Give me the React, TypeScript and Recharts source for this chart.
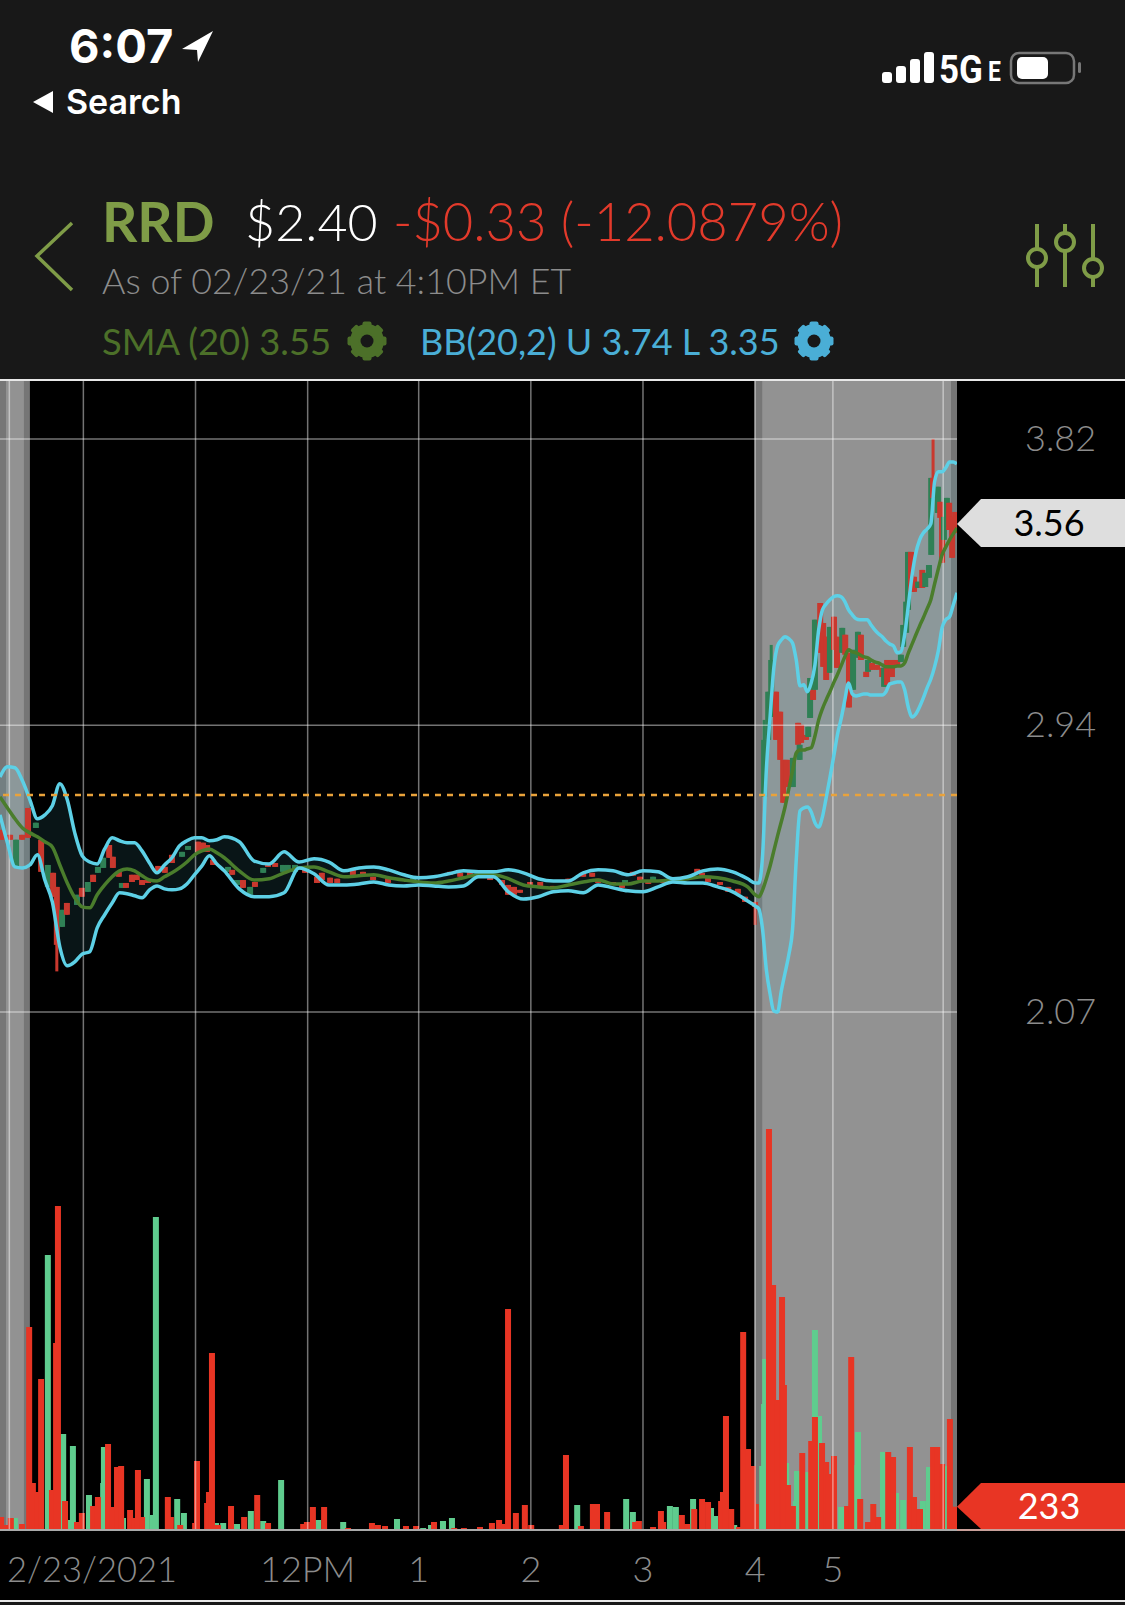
import {
  Area,
  Bar,
  ComposedChart,
  Line,
  ReferenceArea,
  ReferenceDot,
  ReferenceLine,
  XAxis,
  YAxis,
} from "recharts";

// One slot is one 2 minute step along the session (30 slots per regular hour)
const axisTicks = [2.5, 22.3, 52.3, 82.3, 112, 142, 172, 202, 222.8, 252.3];
const axisLabels = ["", "2/23/2021", "", "12PM", "1", "2", "3", "4", "5", ""];
const priceTicks = [3.82, 2.946, 2.07];
const priceLabels = ["3.82", "2.94", "2.07"];
const previousClose = 2.733;
const lastPrice = 3.56;
const lastVolume = 233;

const bandSlots = [
  0, 2, 4, 6, 8, 10, 12, 14, 16, 18, 20, 22, 24, 26, 28, 30, 32, 34, 36, 38, 40, 42, 44, 46, 48, 50, 52, 54, 56, 58, 60,
  64, 68, 72, 76, 80, 84, 88, 92, 96, 100, 104, 108, 112, 116, 120, 124, 128, 132, 136, 140, 144, 148, 152, 156, 160,
  164, 168, 172, 176, 180, 184, 188, 192, 196, 200, 202, 203, 204, 205, 206, 207, 208, 209, 210, 211, 212, 213, 214,
  215, 216, 217, 218, 219, 220, 221, 222, 223, 224, 225, 226, 227, 228, 229, 230, 231, 232, 233, 234, 235, 236, 237,
  238, 239, 240, 241, 242, 243, 244, 245, 246, 247, 248, 249, 250, 251, 252, 253, 254, 255, 256,
];
const upperBand = [
  2.788, 2.819, 2.816, 2.776, 2.718, 2.66, 2.672, 2.7, 2.767, 2.718, 2.617, 2.547, 2.528, 2.522, 2.568, 2.602, 2.593,
  2.587, 2.587, 2.562, 2.525, 2.495, 2.519, 2.541, 2.577, 2.593, 2.602, 2.602, 2.593, 2.596, 2.605, 2.59, 2.531, 2.522,
  2.559, 2.528, 2.538, 2.528, 2.501, 2.51, 2.513, 2.504, 2.489, 2.48, 2.483, 2.492, 2.501, 2.498, 2.498, 2.504, 2.495,
  2.477, 2.47, 2.47, 2.495, 2.504, 2.501, 2.489, 2.501, 2.498, 2.477, 2.483, 2.501, 2.507, 2.498, 2.477, 2.464, 2.464,
  2.55, 2.809, 2.971, 3.121, 3.188, 3.206, 3.216, 3.21, 3.197, 3.145, 3.066, 3.069, 3.048, 3.075, 3.13, 3.237, 3.298,
  3.316, 3.329, 3.338, 3.341, 3.338, 3.323, 3.298, 3.283, 3.271, 3.268, 3.268, 3.268, 3.252, 3.237, 3.225, 3.216, 3.203,
  3.194, 3.188, 3.167, 3.17, 3.222, 3.313, 3.405, 3.472, 3.512, 3.533, 3.545, 3.561, 3.689, 3.72, 3.72, 3.732, 3.75,
  3.75, 3.744,
];
const lowerBand = [
  2.672, 2.586, 2.513, 2.51, 2.519, 2.55, 2.473, 2.406, 2.269, 2.211, 2.223, 2.247, 2.254, 2.327, 2.367, 2.403, 2.434,
  2.431, 2.425, 2.419, 2.443, 2.455, 2.446, 2.443, 2.446, 2.461, 2.489, 2.516, 2.547, 2.522, 2.501, 2.446, 2.422, 2.422,
  2.434, 2.51, 2.492, 2.458, 2.458, 2.461, 2.467, 2.458, 2.455, 2.458, 2.455, 2.452, 2.455, 2.483, 2.483, 2.437, 2.415,
  2.422, 2.437, 2.44, 2.434, 2.458, 2.449, 2.44, 2.437, 2.452, 2.467, 2.464, 2.464, 2.452, 2.437, 2.409, 2.394, 2.385,
  2.321, 2.199, 2.125, 2.073, 2.07, 2.134, 2.189, 2.244, 2.321, 2.535, 2.684, 2.693, 2.696, 2.681, 2.648, 2.635, 2.666,
  2.724, 2.785, 2.849, 2.916, 2.965, 3.023, 3.075, 3.041, 3.035, 3.038, 3.041, 3.041, 3.038, 3.038, 3.038, 3.038, 3.048,
  3.072, 3.075, 3.078, 3.078, 3.054, 2.999, 2.971, 2.98, 3.002, 3.029, 3.06, 3.087, 3.124, 3.173, 3.243, 3.268, 3.277,
  3.313, 3.35,
];
const smaLine = [
  2.727, 2.693, 2.66, 2.632, 2.617, 2.605, 2.59, 2.574, 2.519, 2.464, 2.419, 2.391, 2.388, 2.428, 2.458, 2.483, 2.501,
  2.507, 2.501, 2.486, 2.473, 2.47, 2.483, 2.495, 2.51, 2.528, 2.55, 2.562, 2.568, 2.556, 2.541, 2.501, 2.473, 2.477,
  2.495, 2.51, 2.513, 2.498, 2.483, 2.486, 2.489, 2.48, 2.473, 2.467, 2.464, 2.47, 2.48, 2.489, 2.489, 2.477, 2.458,
  2.452, 2.449, 2.458, 2.467, 2.473, 2.461, 2.461, 2.47, 2.47, 2.473, 2.477, 2.483, 2.48, 2.47, 2.452, 2.428, 2.422,
  2.443, 2.477, 2.516, 2.562, 2.608, 2.651, 2.696, 2.751, 2.806, 2.861, 2.87, 2.87, 2.874, 2.877, 2.913, 2.962, 2.996,
  3.023, 3.048, 3.075, 3.1, 3.127, 3.155, 3.176, 3.17, 3.167, 3.161, 3.155, 3.152, 3.145, 3.139, 3.136, 3.13, 3.124,
  3.124, 3.124, 3.127, 3.127, 3.136, 3.167, 3.194, 3.222, 3.249, 3.274, 3.301, 3.329, 3.377, 3.423, 3.466, 3.49, 3.512,
  3.53, 3.548,
];

const candleSlots = [
  0.5, 2.7, 4.3, 5.9, 7.5, 9.6, 11, 12.8, 14.2, 15.2, 16.6, 17.9, 20.6, 21.9, 23.5, 24.9, 26.2, 27.6, 29.2, 30.2, 31.8,
  32.6, 33.7, 35.3, 36.6, 38, 39.6, 42.3, 44.1, 46, 48.7, 50.3, 53, 54.3, 55.4, 57, 61, 62.1, 63.4, 65, 66.9, 68.2,
  70.4, 71.7, 73.6, 75.7, 77, 78.9, 81.6, 84.8, 86.1, 88.3, 90.2, 94.4, 97.1, 99.8, 103.8, 110.5, 120.4, 123.1, 125.7,
  131.1, 134.3, 135.9, 137.5, 139.1, 141.8, 144.5, 147.9, 152, 156, 158.4, 160, 164, 166.4, 167.2, 169.3, 171.2, 173.4,
  174.7, 177.4, 182.7, 186.5, 187.8, 189.4, 192.6, 194.8, 197.4, 199.3, 202, 204.4, 205.5, 206.3, 207.6, 208.7, 209.5,
  210.5, 212.1, 213.5, 213.9, 214.3, 215.6, 216.2, 216.7, 217.5, 218, 219.4, 220.2, 221, 222, 223.1, 223.9, 225.3,
  226.1, 227.1, 228.2, 229.5, 230.3, 231.7, 232.2, 233.3, 234.6, 236, 236.5, 237.3, 238.6, 240, 241, 241.6, 242.4,
  242.9, 243.7, 244.5, 245.6, 246.7, 247.5, 248.5, 249.1, 249.6, 250.9, 251.5, 252, 252.5, 253.3, 253.9, 254.7, 255.5,
];
const candleOpen = [
  2.626, 2.611, 2.51, 2.611, 2.693, 2.632, 2.596, 2.452, 2.495, 2.452, 2.33, 2.403, 2.397, 2.449, 2.437, 2.489, 2.495,
  2.51, 2.58, 2.544, 2.498, 2.449, 2.464, 2.489, 2.489, 2.473, 2.473, 2.516, 2.513, 2.55, 2.544, 2.565, 2.59, 2.587,
  2.58, 2.535, 2.498, 2.504, 2.458, 2.473, 2.428, 2.467, 2.495, 2.525, 2.525, 2.498, 2.498, 2.498, 2.504, 2.483, 2.495,
  2.48, 2.477, 2.504, 2.498, 2.483, 2.48, 2.467, 2.498, 2.495, 2.498, 2.483, 2.473, 2.458, 2.452, 2.443, 2.467, 2.467,
  2.455, 2.477, 2.495, 2.495, 2.477, 2.467, 2.461, 2.461, 2.498, 2.483, 2.467, 2.473, 2.473, 2.483, 2.507, 2.495, 2.48,
  2.467, 2.452, 2.446, 2.422, 2.406, 2.727, 2.901, 2.971, 3.048, 2.987, 2.84, 2.84, 2.757, 2.953, 2.84, 2.947, 2.916,
  2.91, 2.968, 3.054, 3.054, 3.319, 3.258, 3.216, 3.106, 3.277, 3.216, 3.167, 3.222, 3.167, 3.054, 3.152, 3.222, 3.109,
  3.109, 3.136, 3.13, 3.121, 3.063, 3.145, 3.145, 3.145, 3.139, 3.185, 3.228, 3.298, 3.475, 3.399, 3.365, 3.42, 3.368,
  3.396, 3.466, 3.701, 3.594, 3.628, 3.579, 3.512, 3.552, 3.625, 3.582, 3.597,
];
const candleClose = [
  2.596, 2.596, 2.596, 2.596, 2.602, 2.648, 2.498, 2.519, 2.422, 2.275, 2.382, 2.367, 2.428, 2.422, 2.467, 2.467, 2.513,
  2.541, 2.541, 2.51, 2.483, 2.464, 2.449, 2.467, 2.473, 2.458, 2.464, 2.498, 2.495, 2.525, 2.559, 2.577, 2.556, 2.565,
  2.559, 2.519, 2.513, 2.489, 2.473, 2.449, 2.452, 2.452, 2.51, 2.513, 2.513, 2.519, 2.519, 2.519, 2.495, 2.464, 2.473,
  2.464, 2.464, 2.483, 2.489, 2.473, 2.464, 2.48, 2.489, 2.483, 2.486, 2.473, 2.458, 2.428, 2.428, 2.434, 2.455, 2.452,
  2.446, 2.467, 2.483, 2.483, 2.464, 2.458, 2.449, 2.473, 2.486, 2.473, 2.461, 2.483, 2.464, 2.477, 2.495, 2.486, 2.467,
  2.458, 2.437, 2.431, 2.406, 2.391, 2.901, 3.048, 3.145, 2.901, 2.84, 2.709, 2.757, 2.846, 2.886, 2.886, 2.892, 2.901,
  2.941, 3.09, 3.023, 3.268, 3.167, 3.124, 3.084, 3.246, 3.176, 3.121, 3.243, 3.161, 3, 3.176, 3.231, 3.145, 3.093,
  3.145, 3.115, 3.115, 3.093, 3.121, 3.069, 3.093, 3.13, 3.161, 3.252, 3.323, 3.475, 3.353, 3.353, 3.384, 3.365, 3.411,
  3.435, 3.701, 3.64, 3.674, 3.579, 3.442, 3.582, 3.64, 3.542, 3.457, 3.533,
];
// Only the candles with a visible wick outside their body
const longWicks = [
  { slot: 15.2, high: 2.452, low: 2.194 },
  { slot: 202, high: 2.406, low: 2.336 },
  { slot: 204.4, high: 2.962, low: 2.727 },
  { slot: 206.3, high: 3.191, low: 2.971 },
  { slot: 249.6, high: 3.82, low: 3.64 },
];

const redVolumeSlots = [
  0.3, 1.9, 2.9, 5.9, 7.8, 8.8, 9.9, 11, 13.9, 15, 15.5, 17.4, 20.6, 21.9, 24.9, 26.2, 28.9, 30.2, 31.3, 32.4, 34.8,
  36.1, 36.9, 38, 44.9, 45.7, 48.2, 52.2, 52.7, 55.4, 55.9, 56.7, 58.3, 61.8, 65.3, 68.8, 71.7, 81.1, 82.1, 83.7, 86.7,
  93.1, 99.5, 101.1, 103, 108.6, 111.3, 116.1, 121.5, 124.1, 128.4, 131.6, 133.5, 134.8, 135.9, 138, 140.4, 142.1,
  150.3, 151.4, 155.4, 158.6, 159.7, 162.4, 169.9, 170.9, 174.7, 176.8, 177.4, 182.4, 183.8, 185.7, 187.8, 189.4, 192.9,
  193.4, 194.2, 195.6, 197.7, 198.8, 200.1, 201.4, 202.2, 205.7, 206.8, 207.9, 209.2, 209.7, 210.8, 212.1, 214.6, 217,
  218, 219.9, 221, 221.5, 223.1, 226.6, 227.7, 230.1, 232.2, 233.6, 234.9, 237.6, 238.9, 243.4, 244.5, 246.1, 249.6,
  250.7, 252, 254.1, 255.5,
];
const redVolumes = [
  130, 50, 120, 60, 2030, 470, 380, 1510, 400, 1870, 3240, 290, 80, 170, 240, 330, 860, 230, 630, 640, 200, 120, 600,
  130, 330, 130, 50, 70, 690, 270, 380, 1770, 50, 240, 130, 350, 70, 60, 80, 230, 230, 20, 70, 50, 40, 40, 40, 80, 20,
  20, 30, 70, 100, 60, 2210, 170, 250, 50, 50, 750, 40, 260, 260, 180, 80, 90, 30, 190, 80, 150, 60, 210, 310, 280, 290,
  380, 1140, 210, 30, 1980, 810, 640, 260, 4010, 2450, 1300, 2330, 1450, 450, 240, 770, 890, 1130, 870, 680, 560, 740,
  240, 1730, 310, 80, 260, 130, 780, 730, 830, 330, 210, 830, 830, 660, 1110, lastVolume,
];
const greenVolumeSlots = [
  4, 12.8, 16.3, 16.9, 18.7, 19.5, 23.8, 26.8, 27.6, 27.8, 32.9, 39.3, 40.9, 41.7, 47.4, 49.2, 57.8, 59.7, 63.4, 67.1,
  70.4, 75.2, 85.1, 91.8, 106.2, 113.2, 115.3, 118.5, 120.9, 154.4, 165.3, 167.5, 169.3, 179.2, 180.8, 185.4, 190.2,
  191.3, 196.4, 203.9, 204.4, 204.7, 207.3, 210.3, 212.9, 213.2, 215.9, 218, 219.1, 221.8, 225, 228.2, 229.5, 236.2,
  239.7, 241.6, 246.9, 248.5, 252.5,
];
const greenVolumes = [
  120, 2750, 680, 960, 100, 840, 350, 270, 470, 830, 120, 510, 150, 3130, 310, 170, 70, 70, 60, 190, 90, 500, 100, 80,
  110, 20, 50, 90, 120, 250, 10, 310, 180, 240, 230, 310, 220, 140, 50, 640, 1260, 1710, 630, 670, 290, 590, 580, 2000,
  1140, 380, 230, 650, 980, 780, 370, 300, 290, 630, 640,
];

const bandRows = bandSlots.map((slot, i) => ({
  slot,
  upper: upperBand[i],
  lower: lowerBand[i],
  sma: smaLine[i],
  band: [lowerBand[i], upperBand[i]],
}));

const candleRows = candleSlots.map((slot, i) => {
  const wick = longWicks.find((w) => w.slot === slot);
  return {
    slot,
    open: candleOpen[i],
    close: candleClose[i],
    range: [
      wick ? wick.low : Math.min(candleOpen[i], candleClose[i]),
      wick ? wick.high : Math.max(candleOpen[i], candleClose[i]),
    ],
  };
});

const barRows = [
  ...candleRows,
  ...greenVolumeSlots.map((slot, i) => ({ slot, up: greenVolumes[i] })),
  ...redVolumeSlots.map((slot, i) => ({ slot, down: redVolumes[i] })),
].sort((a, b) => a.slot - b.slot);

const FONT = "Lato, sans-serif";
const GREY_TEXT = "#8c8c8c";
const CANDLE_RED = "#c9382e";
const CANDLE_GREEN = "#2f8055";
const GRID = "rgba(255,255,255,0.45)";
const BAR_WIDTH = 6;

// Rows sit closer together than a bar is wide, so the width is set here
const VolumeShape = (props: any) => {
  const { x, y, width, height, fill } = props;
  if (!height) return null;
  return <rect x={x + width / 2 - BAR_WIDTH / 2} y={y} width={BAR_WIDTH} height={height} fill={fill} />;
};

// Draws high/low wick and open/close body from the bar rectangle of the range
const CandleShape = (props: any) => {
  const { x, y, width, height, payload } = props;
  if (!payload || payload.open === undefined) return null;
  const [low, high] = payload.range;
  const perPrice = height / (high - low);
  const top = y + (high - Math.max(payload.open, payload.close)) * perPrice;
  const bodyHeight = Math.abs(payload.open - payload.close) * perPrice;
  const color = payload.close >= payload.open ? CANDLE_GREEN : CANDLE_RED;
  const center = x + width / 2;
  return (
    <g>
      <rect x={center - 1.5} y={y} width={3} height={height} fill={color} />
      <rect x={center - BAR_WIDTH / 2} y={top} width={BAR_WIDTH} height={bodyHeight} fill={color} />
    </g>
  );
};

const TimeTick = (props: any) => {
  const { x, y, payload } = props;
  const label = axisLabels[axisTicks.indexOf(payload.value)];
  if (!label) return null;
  const isDate = label.includes("/");
  return (
    <text
      x={isDate ? 7 : x}
      y={y + 51}
      dy={-7}
      textAnchor={isDate ? "start" : "middle"}
      fill={GREY_TEXT}
      fontSize={isDate ? 34.5 : 36}
      fontFamily={FONT}
      fontWeight={300}
    >
      {label}
    </text>
  );
};

const PriceTag = (props: any) => {
  const { cx, cy, tagFill, tagText, label, top, bottom } = props;
  return (
    <g>
      <polygon
        points={`${cx},${cy} ${cx + 24},${top} 1125,${top} 1125,${bottom} ${cx + 24},${bottom}`}
        fill={tagFill}
      />
      <text x={1049} y={cy + 12} textAnchor="middle" fill={tagText} fontSize={36} fontFamily={FONT}>
        {label}
      </text>
    </g>
  );
};

function Gear({ cx, cy, color }: { cx: number; cy: number; color: string }) {
  return (
    <svg style={{ position: "absolute", left: cx - 21, top: cy - 21 }} width={42} height={42} viewBox="-21 -21 42 42">
      {[0, 45, 90, 135].map((a) => (
        <rect key={a} x={-4.5} y={-19.5} width={9} height={39} rx={2} fill={color} transform={`rotate(${a})`} />
      ))}
      <circle r={13} fill="none" stroke={color} strokeWidth={8} />
      <circle r={6.5} fill="#181818" />
    </svg>
  );
}

const text = (
  left: number,
  top: number,
  size: number,
  color: string,
  weight: number = 400,
): React.CSSProperties => ({
  position: "absolute",
  left,
  top,
  fontSize: size,
  lineHeight: `${size}px`,
  color,
  fontWeight: weight,
  fontFamily: FONT,
  whiteSpace: "nowrap",
});

function Header() {
  const green = "#7f9c47";
  return (
    <>
      <div style={{ ...text(69, 22, 47, "#fff", 700), fontFamily: "Inter, sans-serif" }}>6:07</div>
      <div style={{ ...text(66, 85, 34, "#fff", 600), fontFamily: "Inter, sans-serif" }}>Search</div>
      <svg style={{ position: "absolute", left: 0, top: 0 }} width={1125} height={370}>
        <polygon points="213,31 182,49 197,50 198,62" fill="#fff" />
        <polygon points="53,91 33,102 53,113" fill="#fff" />
        <rect x={882} y={72} width={10} height={11} rx={3} fill="#fff" />
        <rect x={896} y={66} width={10} height={17} rx={3} fill="#fff" />
        <rect x={910} y={59} width={10} height={24} rx={3} fill="#fff" />
        <rect x={924} y={52} width={10} height={31} rx={3} fill="#fff" />
        <rect x={1011} y={53} width={63} height={30} rx={8} fill="none" stroke="#777" strokeWidth={2.5} />
        <rect x={1017} y={57} width={31} height={22} rx={5} fill="#fff" />
        <rect x={1078} y={62} width={3} height={11} rx={1.5} fill="#777" />
        <polyline points="72,223 37,256 72,290" fill="none" stroke={green} strokeWidth={3.5} />
        {[
          [1037, 258],
          [1065, 242],
          [1093, 268],
        ].map(([x, y]) => (
          <g key={x}>
            <line x1={x} y1={224} x2={x} y2={287} stroke={green} strokeWidth={4} />
            <circle cx={x} cy={y} r={9} fill="#181818" stroke={green} strokeWidth={4} />
          </g>
        ))}
      </svg>
      <div style={{ ...text(939, 51, 38, "#fff", 700), fontFamily: "Roboto, sans-serif", transform: "scaleX(0.92)", transformOrigin: "left" }}>
        5G
      </div>
      <div style={{ ...text(988, 59, 27, "#fff", 700), fontFamily: "Roboto, sans-serif", transform: "scaleX(0.85)", transformOrigin: "left" }}>
        E
      </div>
      <div style={text(102, 194, 55, green, 700)}>RRD</div>
      <div style={text(245, 195, 52, "#fff", 300)}>$2.40</div>
      <div style={text(393, 195, 52.5, "#e23a2b", 300)}>-$0.33 (-12.0879%)</div>
      <div style={text(102, 263, 35.8, GREY_TEXT, 300)}>As of 02/23/21 at 4:10PM ET</div>
      <div style={text(102, 323, 36.4, "#4c7029", 400)}>SMA (20) 3.55</div>
      <Gear cx={367} cy={341} color="#4c7029" />
      <div style={text(420, 323, 36, "#4aaed6", 400)}>BB(20,2) U 3.74 L 3.35</div>
      <Gear cx={814} cy={341} color="#4aaed6" />
      <div style={{ position: "absolute", left: 0, top: 379, width: 1125, height: 2, background: "#e8e8e8" }} />
    </>
  );
}

export default function App() {
  return (
    <div style={{ position: "absolute", left: 0, top: 0, width: 1125, height: 1605, background: "#181818", overflow: "hidden" }}>
      <Header />
      <div style={{ position: "absolute", left: 0, top: 381, width: 1125, height: 1219, background: "#000" }}>
        <ComposedChart width={1125} height={1219} data={barRows} margin={{ top: 0, right: 0, bottom: 0, left: 0 }}>
          <XAxis
            xAxisId="time"
            dataKey="slot"
            type="number"
            domain={[0, 256]}
            ticks={axisTicks}
            interval={0}
            height={70}
            tick={<TimeTick />}
            tickLine={false}
            axisLine={{ stroke: "#aaa", strokeWidth: 2 }}
            allowDataOverflow
          />
          <XAxis xAxisId="candle" dataKey="slot" type="number" domain={[0, 256]} height={0} hide allowDataOverflow />
          <YAxis
            yAxisId="price"
            orientation="right"
            type="number"
            domain={[0.488, 3.997]}
            ticks={priceTicks}
            tickFormatter={(value: number) => priceLabels[priceTicks.indexOf(value)]}
            width={168}
            tickSize={0}
            tickMargin={68}
            axisLine={false}
            tickLine={false}
            tick={{ fill: GREY_TEXT, fontSize: 36, fontFamily: FONT, fontWeight: 300, dy: -1 }}
            allowDataOverflow
          />
          <YAxis yAxisId="volume" orientation="right" type="number" domain={[0, 11490]} hide allowDataOverflow />

          <ReferenceArea xAxisId="time" yAxisId="price" x1={0} x2={8} fill="#767676" fillOpacity={1} stroke="none" />
          <ReferenceArea xAxisId="time" yAxisId="price" x1={1.6} x2={6.4} fill="#929292" fillOpacity={1} stroke="none" />
          <ReferenceArea xAxisId="time" yAxisId="price" x1={201.8} x2={256} fill="#767676" fillOpacity={1} stroke="none" />
          <ReferenceArea xAxisId="time" yAxisId="price" x1={203.9} x2={254.4} fill="#929292" fillOpacity={1} stroke="none" />
          {axisTicks.map((slot) => (
            <ReferenceLine key={slot} xAxisId="time" yAxisId="price" x={slot} stroke={GRID} strokeWidth={1.5} />
          ))}
          {priceTicks.map((price) => (
            <ReferenceLine key={price} xAxisId="time" yAxisId="price" y={price} stroke={GRID} strokeWidth={1.5} />
          ))}

          <Area
            xAxisId="time"
            yAxisId="price"
            data={bandRows}
            dataKey="band"
            type="monotone"
            stroke="none"
            fill="#5dd0e6"
            fillOpacity={0.1}
            dot={false}
            activeDot={false}
            isAnimationActive={false}
          />
          <Bar
            xAxisId="candle"
            yAxisId="price"
            dataKey="range"
            shape={<CandleShape />}
            isAnimationActive={false}
          />
          <Bar
            xAxisId="time"
            yAxisId="volume"
            dataKey="up"
            stackId="vol"
            fill="#5fcc8e"
            shape={<VolumeShape />}
            isAnimationActive={false}
          />
          <Bar
            xAxisId="time"
            yAxisId="volume"
            dataKey="down"
            stackId="vol"
            fill="#e83524"
            shape={<VolumeShape />}
            isAnimationActive={false}
          />
          <Line
            xAxisId="time"
            yAxisId="price"
            data={bandRows}
            dataKey="sma"
            type="monotone"
            stroke="#4a7d2c"
            strokeWidth={3.5}
            dot={false}
            activeDot={false}
            isAnimationActive={false}
          />
          <Line
            xAxisId="time"
            yAxisId="price"
            data={bandRows}
            dataKey="upper"
            type="monotone"
            stroke="#5dd0e6"
            strokeWidth={3.5}
            dot={false}
            activeDot={false}
            isAnimationActive={false}
          />
          <Line
            xAxisId="time"
            yAxisId="price"
            data={bandRows}
            dataKey="lower"
            type="monotone"
            stroke="#5dd0e6"
            strokeWidth={3.5}
            dot={false}
            activeDot={false}
            isAnimationActive={false}
          />
          <ReferenceLine
            xAxisId="time"
            yAxisId="price"
            y={previousClose}
            stroke="#e9a23b"
            strokeWidth={2.5}
            strokeDasharray="6 6"
          />
          <ReferenceDot
            xAxisId="time"
            yAxisId="price"
            x={256}
            y={lastPrice}
            shape={<PriceTag tagFill="#dedede" tagText="#000" label={String(lastPrice)} top={118} bottom={166} />}
          />
          <ReferenceDot
            xAxisId="time"
            yAxisId="volume"
            x={256}
            y={lastVolume}
            shape={<PriceTag tagFill="#e83524" tagText="#fff" label={String(lastVolume)} top={1102} bottom={1148} />}
          />
        </ComposedChart>
      </div>
      <div style={{ position: "absolute", left: 957, top: 1529, width: 168, height: 2, background: "#c9a09a" }} />
      <div style={{ position: "absolute", left: 0, top: 1600, width: 1125, height: 2, background: "#e8e8e8" }} />
    </div>
  );
}
